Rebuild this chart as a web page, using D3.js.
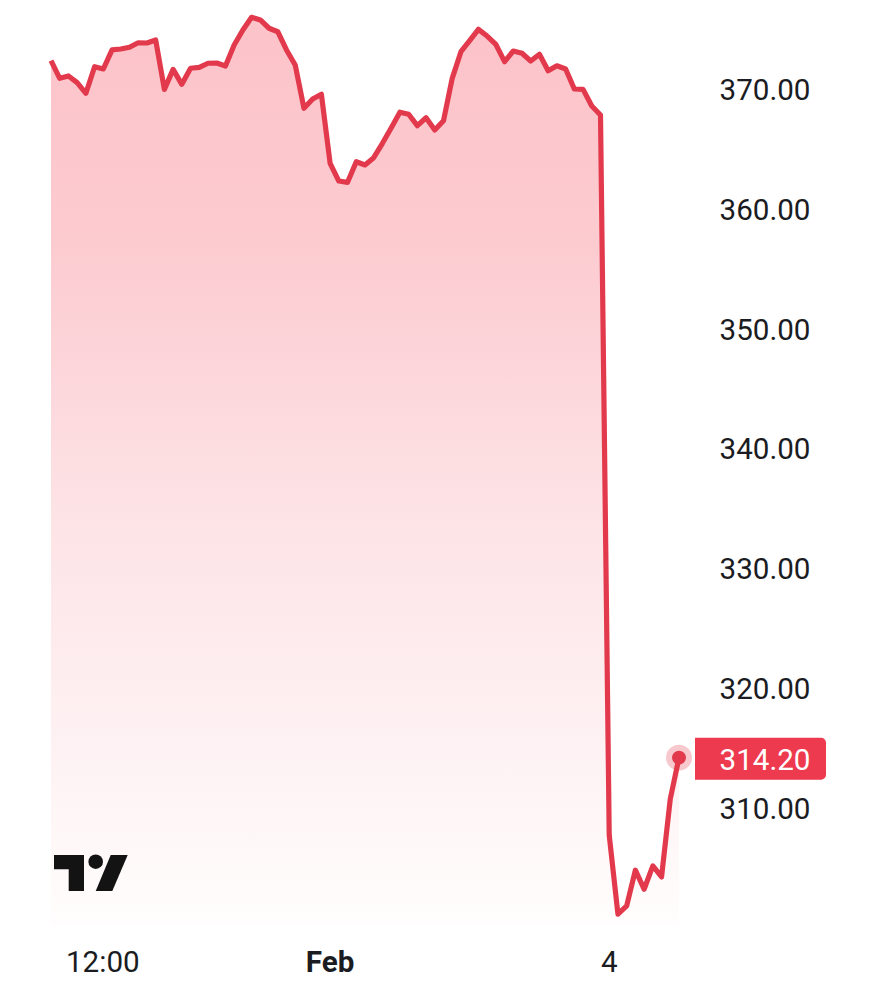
<!DOCTYPE html>
<html>
<head>
<meta charset="utf-8">
<script src="https://cdn.jsdelivr.net/npm/d3@7"></script>
<style>
  html, body { margin: 0; padding: 0; background: #fff; }
  text { font-family: Roboto, sans-serif; }
</style>
</head>
<body>
<div id="chart"></div>
<script>
// prices, one per bar
const prices = [
  372.36, 370.89, 371.09, 370.53, 369.64, 371.86, 371.67, 373.26, 373.34, 373.48,
  373.86, 373.84, 374.09, 369.97, 371.64, 370.39, 371.73, 371.81, 372.15, 372.17,
  371.92, 373.67, 374.92, 375.98, 375.76, 375.07, 374.78, 373.26, 372.00, 368.39,
  369.17, 369.56, 363.80, 362.32, 362.21, 363.93, 363.66, 364.27, 365.47, 366.74,
  368.06, 367.89, 366.94, 367.60, 366.58, 367.35, 370.89, 373.11, 374.03, 374.98,
  374.42, 373.73, 372.28, 373.17, 372.98, 372.34, 372.90, 371.53, 371.94, 371.67,
  370.00, 369.97, 368.58, 367.83, 307.73, 301.14, 301.83, 304.81, 303.22, 305.17,
  304.25, 310.75, 314.20
];
const priceTicks = [310, 320, 330, 340, 350, 360, 370];
const timeTicks = [6, 32, 64];
const timeLabels = ["12:00", "Feb", "4"];
const lastPrice = 314.20;

const width = 887, height = 1000;
const red = "#e23a4c";

const svg = d3.select("#chart")
  .append("svg")
    .attr("width", width)
    .attr("height", height)
    .style("display", "block");

const x = d3.scaleLinear().domain([0, prices.length - 1]).range([51, 679]);
const y = d3.scaleLinear().domain([310, 370]).range([808, 89]);

// area fill fades out toward the bottom
const grad = svg.append("defs").append("linearGradient")
    .attr("id", "fade")
    .attr("gradientUnits", "userSpaceOnUse")
    .attr("x1", 0).attr("y1", 15)
    .attr("x2", 0).attr("y2", 925);
grad.append("stop").attr("offset", "0%").attr("stop-color", "#fcc3c9");
grad.append("stop").attr("offset", "25%").attr("stop-color", "#fccbd0");
grad.append("stop").attr("offset", "55%").attr("stop-color", "#fde3e6");
grad.append("stop").attr("offset", "100%").attr("stop-color", "#fffdfd");

const area = d3.area()
  .x((d, i) => x(i))
  .y0(925)
  .y1(d => y(d));

svg.append("path")
  .datum(prices)
  .attr("d", area)
  .attr("fill", "url(#fade)");

const line = d3.line()
  .x((d, i) => x(i))
  .y(d => y(d));

svg.append("path")
  .datum(prices)
  .attr("d", line)
  .attr("fill", "none")
  .attr("stroke", red)
  .attr("stroke-width", 5.2)
  .attr("stroke-linejoin", "round");

// price axis
const yAxis = d3.axisRight(y)
  .tickValues(priceTicks)
  .tickFormat(d3.format(".2f"))
  .tickSize(0)
  .tickPadding(0);
const yAxisG = svg.append("g")
  .attr("transform", "translate(765,1)")
  .call(yAxis);
yAxisG.select(".domain").remove();
yAxisG.selectAll("text")
  .attr("text-anchor", "middle")
  .attr("font-size", 29.6)
  .attr("font-family", "Roboto, sans-serif")
  .attr("fill", "#1a1c22");

// time axis
const xAxis = d3.axisBottom(x)
  .tickValues(timeTicks)
  .tickFormat((d, i) => timeLabels[i])
  .tickSize(0)
  .tickPadding(0);
const xAxisG = svg.append("g")
  .attr("transform", "translate(0,951)")
  .call(xAxis);
xAxisG.select(".domain").remove();
xAxisG.selectAll("text")
  .attr("font-size", 29.6)
  .attr("font-family", "Roboto, sans-serif")
  .attr("font-weight", (d, i) => timeLabels[i] === "Feb" ? 700 : 400)
  .attr("fill", "#1a1c22");
xAxisG.selectAll(".tick")
  .attr("transform", d => "translate(" + (x(d) + (d === 6 ? -0.5 : 0)) + ",0)");

// last price marker and tag
const lastX = x(prices.length - 1), lastY = y(lastPrice);
svg.append("circle")
  .attr("cx", lastX).attr("cy", lastY).attr("r", 13)
  .attr("fill", red).attr("fill-opacity", 0.28);
svg.append("circle")
  .attr("cx", lastX).attr("cy", lastY).attr("r", 7)
  .attr("fill", red);

svg.append("path")
  .attr("d", "M695," + (lastY - 20) + "H821a5,5 0 0 1 5,5V" + (lastY + 17) + "a5,5 0 0 1 -5,5H695Z")
  .attr("fill", "#ee3a4e");
svg.append("text")
  .attr("x", 765).attr("y", lastY + 1.5)
  .attr("dy", "0.35em")
  .attr("text-anchor", "middle")
  .attr("font-size", 29.6)
  .attr("fill", "#ffffff")
  .text(d3.format(".2f")(lastPrice));

// TradingView logo
const logo = svg.append("g").attr("fill", "#131313");
logo.append("path").attr("d", "M54,855H84V891H68.7V869.3H54Z");
logo.append("circle").attr("cx", 95.7).attr("cy", 861.7).attr("r", 7.3);
logo.append("path").attr("d", "M110.7,855H127.7L112.3,891H95.7Z");
</script>
</body>
</html>
